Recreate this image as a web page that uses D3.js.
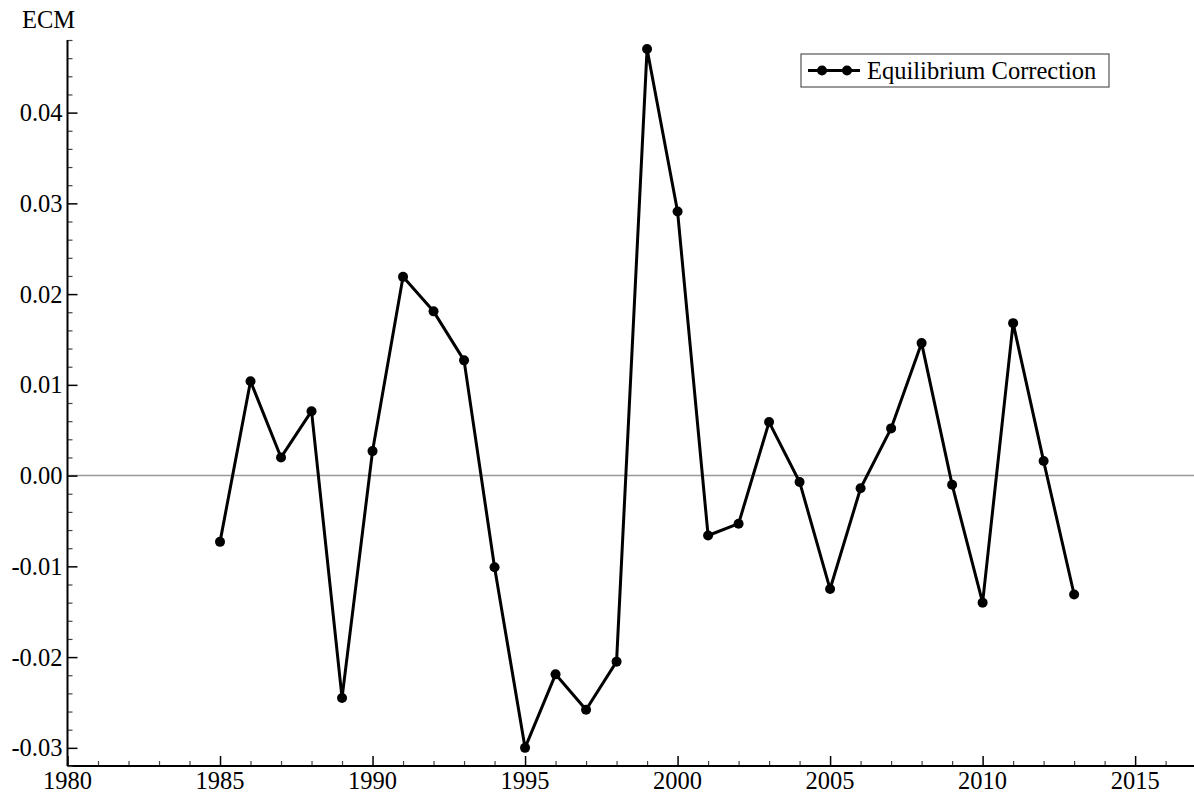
<!DOCTYPE html>
<meta charset="utf-8">
<script src="https://d3js.org/d3.v7.min.js"></script>
<style>
  body { margin: 0; background: #fff; }
  svg text { font-family: "Liberation Serif", "Times New Roman", Times, serif !important; }
</style>
<div id="chart"></div>
<script>

// data
var years = [1985, 1986, 1987, 1988, 1989, 1990, 1991, 1992, 1993, 1994,
             1995, 1996, 1997, 1998, 1999, 2000, 2001, 2002, 2003, 2004,
             2005, 2006, 2007, 2008, 2009, 2010, 2011, 2012, 2013];
var ecm = [-0.0073, 0.0104, 0.0020, 0.0071, -0.0245, 0.0027, 0.0219, 0.0181, 0.0127, -0.0101,
           -0.0300, -0.0219, -0.0258, -0.0205, 0.0470, 0.0291, -0.0066, -0.0053, 0.0059, -0.0007,
           -0.0125, -0.0014, 0.0052, 0.0146, -0.0010, -0.0140, 0.0168, 0.0016, -0.0131];
var yTicks = [-0.03, -0.02, -0.01, 0.00, 0.01, 0.02, 0.03, 0.04];
var xTicks = [1980, 1985, 1990, 1995, 2000, 2005, 2010, 2015];
var seriesName = "Equilibrium Correction";
var yLabel = "ECM";

var width = 1194,
    height = 795,
    margin = {left: 67.5, top: 40, right: 0, bottom: 29},
    fontSize = "24.5px",
    serif = "'Liberation Serif', 'Times New Roman', Times, serif";

var svg = d3.select("#chart")
    .append("svg")
        .attr("width", width)
        .attr("height", height)
        .attr("font-family", serif);

var x = d3.scaleLinear()
    .domain([1980, 2016.93])
    .range([margin.left, width - margin.right]);

var y = d3.scaleLinear()
    .domain([-0.032, 0.048])
    .range([height - margin.bottom, margin.top]);

// zero line
svg.append("line")
    .attr("x1", x.range()[0]).attr("x2", x.range()[1])
    .attr("y1", y(0)).attr("y2", y(0))
    .attr("stroke", "#999").attr("stroke-width", 1.5);

// x axis (ticks pointing inward)
var xMinor = d3.range(1981, 2017).filter(function(d){ return d % 5 != 0; });
var xAxisG = svg.append("g").attr("transform", "translate(0," + y.range()[0] + ")");
xAxisG.append("g")
    .call(d3.axisTop(x).tickValues(xMinor).tickSize(5).tickFormat(""))
    .call(function(g){ g.select(".domain").remove(); })
    .selectAll("line").attr("stroke", "#444").attr("stroke-width", 1.2);
xAxisG.append("g")
    .call(d3.axisTop(x).tickValues(xTicks).tickSize(10).tickFormat(""))
    .call(function(g){ g.select(".domain").remove(); })
    .selectAll("line").attr("stroke", "#000").attr("stroke-width", 1.5);
xAxisG.append("line")
    .attr("x1", x.range()[0]).attr("x2", x.range()[1])
    .attr("stroke", "#000").attr("stroke-width", 2);
xAxisG.selectAll(".xlab")
    .data(xTicks)
    .enter().append("text")
        .attr("x", function(d){ return x(d); })
        .attr("y", 23)
        .attr("text-anchor", "middle")
        .style("font-family", serif)
        .style("font-size", fontSize)
        .text(function(d){ return d; });

// y axis (ticks pointing inward)
var yMinor = d3.range(-32, 49, 2).map(function(d){ return d / 1000; })
    .filter(function(d){ return Math.abs(Math.round(d * 1000) % 10) != 0; });
var yAxisG = svg.append("g").attr("transform", "translate(" + x.range()[0] + ",0)");
yAxisG.append("g")
    .call(d3.axisRight(y).tickValues(yMinor).tickSize(5).tickFormat(""))
    .call(function(g){ g.select(".domain").remove(); })
    .selectAll("line").attr("stroke", "#444").attr("stroke-width", 1.2);
yAxisG.append("g")
    .call(d3.axisRight(y).tickValues(yTicks).tickSize(10).tickFormat(""))
    .call(function(g){ g.select(".domain").remove(); })
    .selectAll("line").attr("stroke", "#000").attr("stroke-width", 1.5);
yAxisG.append("line")
    .attr("y1", y.range()[0]).attr("y2", y.range()[1])
    .attr("stroke", "#000").attr("stroke-width", 2);
yAxisG.selectAll(".ylab")
    .data(yTicks)
    .enter().append("text")
        .attr("x", -5)
        .attr("y", function(d){ return y(d); })
        .attr("dy", "0.35em")
        .attr("text-anchor", "end")
        .style("font-family", serif)
        .style("font-size", fontSize)
        .text(function(d){ return d3.format(".2f")(d).replace("\u2212", "-"); });

svg.append("text")
    .attr("x", 22).attr("y", 28)
    .style("font-family", serif)
    .style("font-size", fontSize)
    .text(yLabel);

// series
var pts = years.map(function(d, i){ return {year: d, value: ecm[i]}; });

svg.append("path")
    .datum(pts)
    .attr("fill", "none")
    .attr("stroke", "#000")
    .attr("stroke-width", 3)
    .attr("stroke-linejoin", "round")
    .attr("d", d3.line()
        .x(function(d){ return x(d.year); })
        .y(function(d){ return y(d.value); }));

svg.selectAll(".dot")
    .data(pts)
    .enter().append("circle")
        .attr("cx", function(d){ return x(d.year); })
        .attr("cy", function(d){ return y(d.value); })
        .attr("r", 5)
        .attr("fill", "#000");

// legend
var lg = svg.append("g").attr("transform", "translate(801,54)");
lg.append("rect")
    .attr("width", 308).attr("height", 33)
    .attr("fill", "#fff").attr("stroke", "#555").attr("stroke-width", 1.2);
lg.append("line")
    .attr("x1", 7).attr("x2", 59).attr("y1", 16.5).attr("y2", 16.5)
    .attr("stroke", "#000").attr("stroke-width", 3);
lg.append("circle").attr("cx", 21).attr("cy", 16.5).attr("r", 5).attr("fill", "#000");
lg.append("circle").attr("cx", 46).attr("cy", 16.5).attr("r", 5).attr("fill", "#000");
lg.append("text")
    .attr("x", 66).attr("y", 16.5).attr("dy", "0.35em")
    .style("font-family", serif)
    .style("font-size", fontSize)
    .text(seriesName);

</script>
